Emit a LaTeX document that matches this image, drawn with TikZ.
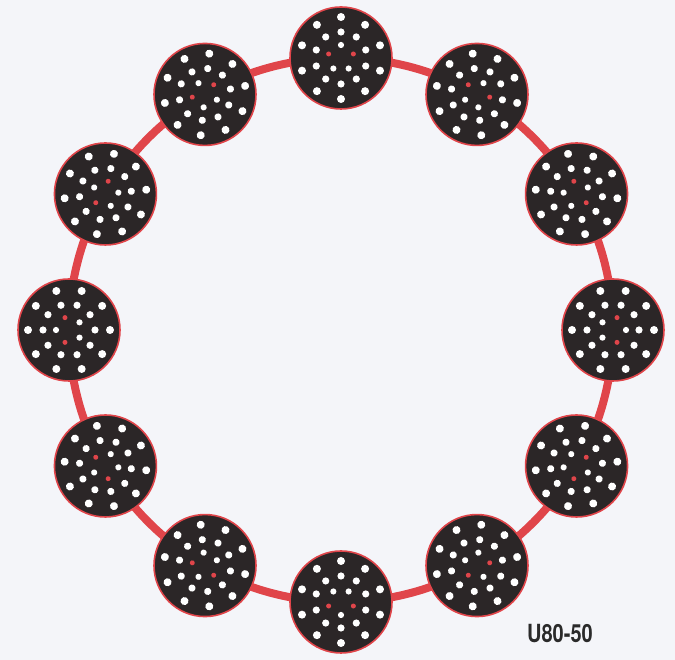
\documentclass[tikz,border=0pt]{standalone}
\usepackage{fontspec}
\setsansfont{TeX Gyre Heros}
\usetikzlibrary{calc}
\definecolor{bg}{HTML}{F4F5F9}
\definecolor{ringred}{HTML}{E0454A}
\definecolor{disccol}{HTML}{2B2627}
\definecolor{labelcol}{HTML}{2A2A2A}
\tikzset{
  discnode/.style={circle, minimum size=102, inner sep=0pt, fill=disccol, draw=ringred, line width=1.6},
  ringline/.style={draw=ringred, line width=8},
  whitehole/.style={fill=white},
  redhole/.style={fill=ringred},
  labeltext/.style={font=\sffamily\bfseries\fontsize{25}{25}\selectfont, text=labelcol, xscale=0.8, inner sep=0pt}
}
\begin{document}
\begin{tikzpicture}[x=1pt,y=1pt]
\fill[bg] (0,0) rectangle (675,660);
\useasboundingbox (0,0) rectangle (675,660);
\coordinate (C) at (341,330);
\draw[ringline] (C) circle[radius=272];
\foreach \i in {0,...,11} {
  \pgfmathsetmacro\a{90+30*\i}
  \node[discnode] (d\i) at ($(C)+(\a:272)$) {};
  \begin{scope}[shift={(d\i.center)}, rotate=\a]
    \foreach \k in {0,...,9} {
      \fill[whitehole] (\k*36:41) circle[radius=4];
      \fill[whitehole] (\k*36:26) circle[radius=3.6];
    }
    \foreach \k in {0,2,3} {
      \fill[whitehole] (\k*72:13) circle[radius=3.1];
    }
    \fill[redhole] (72:13) circle[radius=2.5];
    \fill[redhole] (-72:13) circle[radius=2.5];
  \end{scope}
}
\node[labeltext, anchor=south west] (lbl) at (527,17) {U80-50};
\end{tikzpicture}
\end{document}
